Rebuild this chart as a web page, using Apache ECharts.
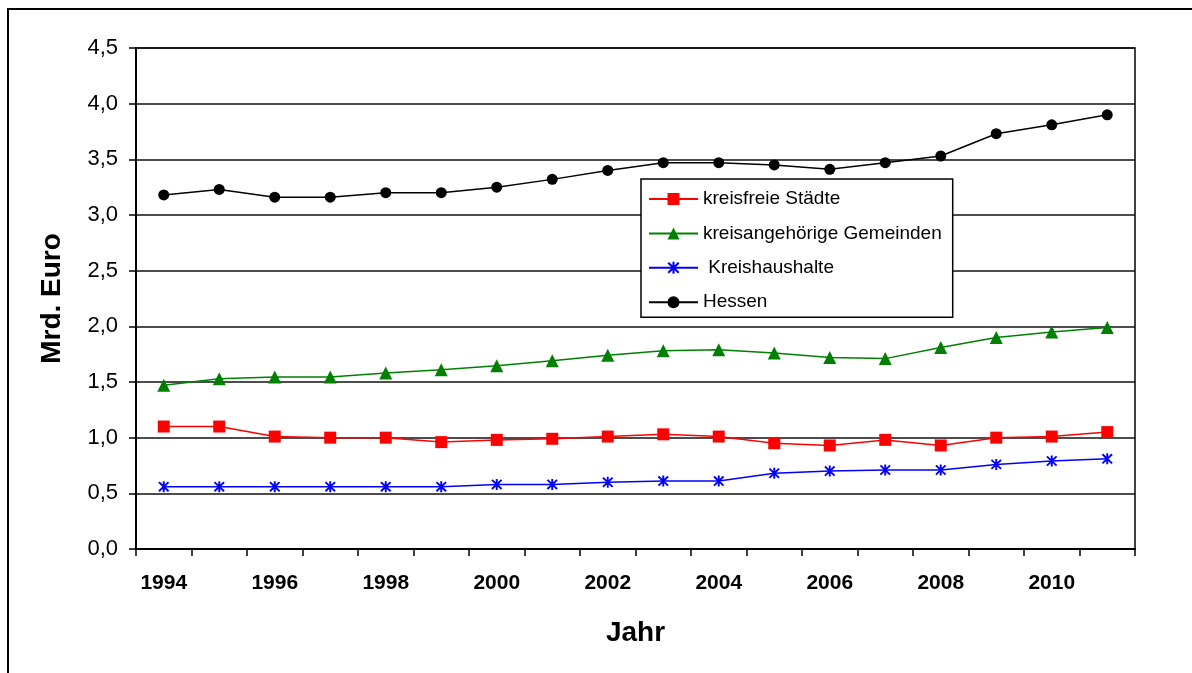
<!DOCTYPE html>
<html>
<head>
<meta charset="utf-8">
<script src="https://cdn.jsdelivr.net/npm/echarts@6/dist/echarts.min.js"></script>
<style>
html,body{margin:0;padding:0;background:#fff;}
#chart{width:1192px;height:673px;}
</style>
</head>
<body>
<div id="chart"></div>
<script>
const years = ['1994','1995','1996','1997','1998','1999','2000','2001','2002','2003','2004','2005','2006','2007','2008','2009','2010','2011'];
const kreisfreieStaedte = [1.10,1.10,1.01,1.00,1.00,0.96,0.98,0.99,1.01,1.03,1.01,0.95,0.93,0.98,0.93,1.00,1.01,1.05];
const kreisangehoerigeGemeinden = [1.47,1.53,1.545,1.545,1.58,1.61,1.645,1.69,1.74,1.78,1.79,1.76,1.72,1.71,1.81,1.90,1.95,1.99];
const kreishaushalte = [0.56,0.56,0.56,0.56,0.56,0.56,0.58,0.58,0.60,0.61,0.61,0.68,0.70,0.71,0.71,0.76,0.79,0.81];
const hessen = [3.18,3.23,3.16,3.16,3.20,3.20,3.25,3.32,3.40,3.47,3.47,3.45,3.41,3.47,3.53,3.73,3.81,3.90];
const seriesNames = ['kreisfreie Städte','kreisangehörige Gemeinden',' Kreishaushalte','Hessen'];

const asterisk = 'path://M-1,-6L1,-6L1,6L-1,6Z M-5.7,-4.3L-4.3,-5.7L5.7,4.3L4.3,5.7Z M4.3,-5.7L5.7,-4.3L-4.3,5.7L-5.7,4.3Z';
const FONT = '"Liberation Sans", Arial, sans-serif';

const chart = echarts.init(document.getElementById('chart'), null, {renderer:'canvas'});
function mk(name, data, color, symbol, size){
  return {
    name: name, type: 'line', data: data,
    symbol: symbol, symbolSize: size, showSymbol: true,
    lineStyle: {color: color, width: 1.5},
    itemStyle: {color: color, borderWidth: 0},
    emphasis: {disabled: true},
    animation: false, z: 3
  };
}
chart.setOption({
  animation: false,
  backgroundColor: '#fff',
  textStyle: {fontFamily: FONT},
  grid: {left: 136, right: 57, top: 48, bottom: 124, show: true, borderColor: '#000', borderWidth: 1.5, containLabel: false},
  graphic: [
    {type: 'line', shape: {x1: 8, y1: 9, x2: 1300, y2: 9}, style: {stroke: '#000', lineWidth: 2}},
    {type: 'line', shape: {x1: 8, y1: 8, x2: 8, y2: 800}, style: {stroke: '#000', lineWidth: 2}}
  ],
  legend: {
    orient: 'vertical',
    left: 641, top: 179,
    data: seriesNames,
    backgroundColor: '#fff',
    borderColor: '#000', borderWidth: 1.5,
    padding: [9, 11, 4, 7],
    itemWidth: 49, itemHeight: 15, itemGap: 12.4,
    itemStyle: {borderWidth: 0},
    textStyle: {fontSize: 19, color: '#000', fontFamily: FONT, lineHeight: 22},
    selectedMode: false
  },
  xAxis: {
    type: 'category', data: years, boundaryGap: true,
    name: 'Jahr', nameLocation: 'middle', nameGap: 70,
    nameTextStyle: {fontSize: 28, fontWeight: 'bold', color: '#000', fontFamily: FONT},
    axisLine: {lineStyle: {color: '#000', width: 2}},
    axisTick: {show: true, alignWithLabel: false, interval: 0, length: 7, lineStyle: {color: '#000', width: 1.5}},
    axisLabel: {interval: 1, margin: 24, fontSize: 21, fontWeight: 'bold', color: '#000', fontFamily: FONT},
    splitLine: {show: false}
  },
  yAxis: {
    type: 'value', min: 0, max: 4.5, interval: 0.5,
    name: 'Mrd. Euro', nameLocation: 'middle', nameGap: 70, nameRotate: 90,
    nameTextStyle: {fontSize: 28, fontWeight: 'bold', color: '#000', fontFamily: FONT},
    axisLine: {show: true, lineStyle: {color: '#000', width: 2}},
    axisTick: {show: true, length: 7, lineStyle: {color: '#000', width: 1.5}},
    axisLabel: {margin: 18, fontSize: 22, color: '#000', fontFamily: FONT,
      formatter: v => v.toFixed(1).replace('.', ',')},
    splitLine: {show: true, lineStyle: {color: '#111', width: 1.5}}
  },
  series: [
    mk(seriesNames[0], kreisfreieStaedte, '#ff0000', 'rect', 12),
    mk(seriesNames[1], kreisangehoerigeGemeinden, '#008000', 'triangle', 13),
    mk(seriesNames[2], kreishaushalte, '#0000ff', asterisk, 11),
    mk(seriesNames[3], hessen, '#000000', 'circle', 11)
  ]
});
</script>
</body>
</html>
